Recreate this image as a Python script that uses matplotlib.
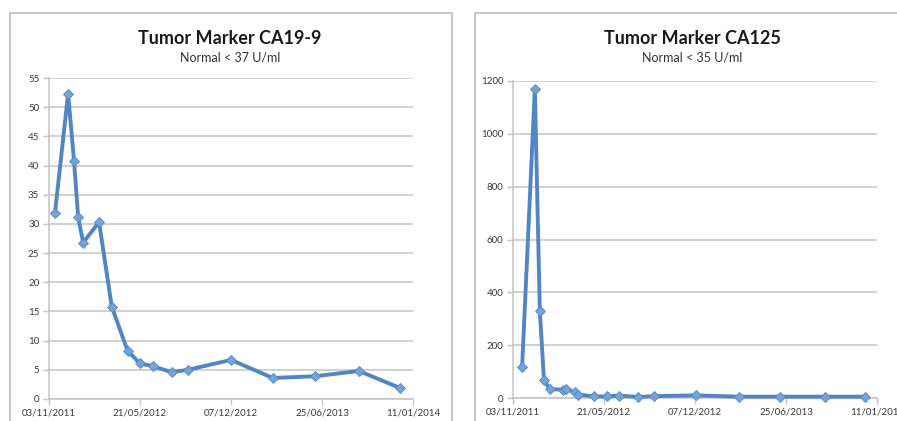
import matplotlib
matplotlib.use("Agg")
import matplotlib.pyplot as plt
import matplotlib.dates as mdates
from matplotlib.patches import Rectangle
import datetime as dt

# CA19-9 series (U/ml)
ca199_dates = ["2011-11-16", "2011-12-15", "2011-12-28", "2012-01-06", "2012-01-17",
               "2012-02-21", "2012-03-20", "2012-04-24", "2012-05-21", "2012-06-19",
               "2012-07-30", "2012-09-03", "2012-12-07", "2013-03-09", "2013-06-10",
               "2013-09-14", "2013-12-13"]
ca199_values = [31.8, 52.3, 40.8, 31.2, 26.8, 30.3, 15.8, 8.2, 6.1, 5.6,
                4.6, 5.0, 6.7, 3.6, 3.9, 4.8, 1.9]

# CA125 series (U/ml)
ca125_dates = ["2011-11-23", "2011-12-21", "2012-01-01", "2012-01-10", "2012-01-23",
               "2012-02-21", "2012-02-27", "2012-03-18", "2012-03-25", "2012-04-29",
               "2012-05-28", "2012-06-23", "2012-08-04", "2012-09-08", "2012-12-09",
               "2013-03-14", "2013-06-12", "2013-09-19", "2013-12-16"]
ca125_values = [118, 1170, 328, 70, 33, 32, 35, 22, 13, 6,
                6, 9, 4, 7, 10, 5, 5, 5, 5]

x_start = "2011-11-03"
x_end = "2014-01-11"
tick_step_days = 200

panels = [
    {"title": "Tumor Marker CA19-9", "sub": "Normal < 37 U/ml",
     "dates": ca199_dates, "values": ca199_values, "ymax": 55, "ystep": 5,
     "rect": [49 / 897, 1 - 399 / 421, 364 / 897, 321 / 421], "cx": 230 / 897},
    {"title": "Tumor Marker CA125", "sub": "Normal < 35 U/ml",
     "dates": ca125_dates, "values": ca125_values, "ymax": 1200, "ystep": 200,
     "rect": [513 / 897, 1 - 398 / 421, 364 / 897, 317 / 421], "cx": 692 / 897},
]

plt.rcParams["font.family"] = ["Lato", "DejaVu Sans"]

LINE = "#5186c4"
MARK = "#77a2d6"
GRID = "#c3c3c3"
TXT = "#3a3a3a"

fig = plt.figure(figsize=(8.97, 4.21), dpi=100)

# chart frames
fig.patches.append(Rectangle((10 / 897, -0.05), 442 / 897, 1.05 - 13 / 421,
                             transform=fig.transFigure, fill=False,
                             edgecolor="#c8c8c8", linewidth=1.5))
fig.patches.append(Rectangle((475 / 897, -0.05), 0.5, 1.05 - 13 / 421,
                             transform=fig.transFigure, fill=False,
                             edgecolor="#c8c8c8", linewidth=1.5))

d0 = dt.datetime.strptime(x_start, "%Y-%m-%d")
d1 = dt.datetime.strptime(x_end, "%Y-%m-%d")
ticks = []
d = d0
while d <= d1:
    ticks.append(d)
    d += dt.timedelta(days=tick_step_days)

for p in panels:
    ax = fig.add_axes(p["rect"])
    xs = [dt.datetime.strptime(s, "%Y-%m-%d") for s in p["dates"]]
    ax.plot(xs, p["values"], "-D", color=LINE, linewidth=2.8, markersize=5.5,
            markerfacecolor=MARK, markeredgecolor=LINE, markeredgewidth=0.6,
            zorder=3, clip_on=False)
    ax.set_xlim(d0, d1)
    ax.set_ylim(0, p["ymax"])
    ax.set_yticks(range(0, p["ymax"] + 1, p["ystep"]))
    ax.set_xticks(ticks)
    ax.xaxis.set_major_formatter(mdates.DateFormatter("%d/%m/%Y"))
    ax.grid(axis="y", color=GRID, linewidth=1.1)
    ax.set_axisbelow(True)
    for s in ["top", "right"]:
        ax.spines[s].set_visible(False)
    for s in ["left", "bottom"]:
        ax.spines[s].set_color(GRID)
        ax.spines[s].set_linewidth(1.1)
    ax.tick_params(axis="both", colors=GRID, labelcolor=TXT, labelsize=7,
                   length=4, width=1)
    ax.tick_params(axis="y", pad=3)
    ax.tick_params(axis="x", pad=3)

    fig.text(p["cx"], 1 - 38 / 421, p["title"], ha="center", va="center",
             fontsize=13, fontweight="bold", color="#1a1a1a")
    fig.text(p["cx"], 1 - 57 / 421, p["sub"], ha="center", va="center",
             fontsize=9, color="#333333")

fig.savefig("out.png", dpi=100)
